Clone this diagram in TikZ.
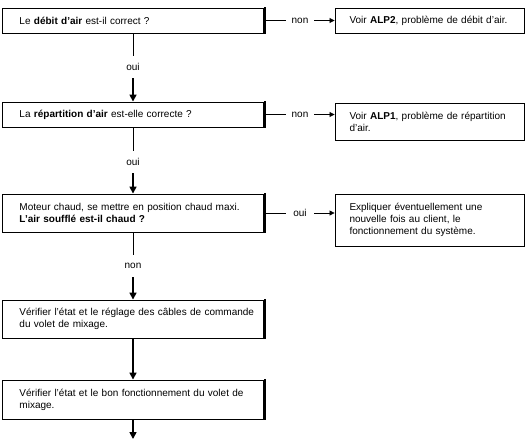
\documentclass[tikz,border=0pt]{standalone}
\usepackage{fontspec}
\setmainfont{Liberation Sans}
\usetikzlibrary{arrows.meta}
\begin{document}
\begin{tikzpicture}[x=1pt,y=-1pt,
  txt/.style={font=\fontsize{10}{12}\selectfont},
  lbox/.style={txt, draw, line width=0.9pt, text width=261pt, minimum width=261pt,
    align=left, inner xsep=0pt, inner ysep=0pt, execute at begin node={\leftskip=17pt\relax}},
  rbox/.style={txt, draw, line width=0.9pt, text width=189pt, minimum width=189pt,
    align=left, inner xsep=0pt, inner ysep=0pt, execute at begin node={\leftskip=14.5pt\relax}},
  vlab/.style={txt, inner sep=0pt, minimum height=22pt},
  hlab/.style={txt, inner sep=0pt, minimum width=28pt},
  thinline/.style={line width=0.8pt},
  varrow/.style={line width=1.6pt, -{Triangle[width=7pt,length=7pt]}},
  harrow/.style={line width=0.8pt, -{Triangle[width=5pt,length=5pt]}},
  edge/.style={line width=2.6pt}
]
\useasboundingbox (0,0) rectangle (529,439);

% left boxes
\node[lbox, minimum height=25pt] (b1) at (133,20.5) {Le \textbf{débit d'air} est-il correct ?};
\node[lbox, minimum height=25pt] (b2) at (133,114.5) {La \textbf{répartition d'air} est-elle correcte ?};
\node[lbox, minimum height=38pt] (b3) at (133,213) {Moteur chaud, se mettre en position chaud maxi.\\\textbf{L'air soufflé est-il chaud ?}};
\node[lbox, minimum height=38pt] (b4) at (133,319) {Vérifier l'état et le réglage des câbles de commande\\du volet de mixage.};
\node[lbox, minimum height=39pt] (b5) at (133,399.5) {Vérifier l'état et le bon fonctionnement du volet de\\mixage.};

\foreach \n in {b1,b2,b3,b4,b5}
  \draw[edge] ([shift={(0.9,-0.45)}]\n.north east) -- ([shift={(0.9,0.45)}]\n.south east);

% right boxes
\node[rbox, minimum height=25pt] (r1) at (429.5,20.5) {Voir \textbf{ALP2}, problème de débit d'air.};
\node[rbox, minimum height=37pt] (r2) at (429.5,121.5) {Voir \textbf{ALP1}, problème de répartition\\d'air.};
\node[rbox, minimum height=52pt] (r3) at (429.5,220) {Expliquer éventuellement une\\nouvelle fois au client, le\\fonctionnement du système.};

% vertical labels
\node[vlab] (v1) at (133,67) {oui};
\node[vlab] (v2) at (133,162) {oui};
\node[vlab] (v3) at (133,266) {non};
\coordinate (end) at (133,439);

% horizontal labels
\node[hlab] (h1) at (300,20.5) {non};
\node[hlab] (h2) at (300,114.5) {non};
\node[hlab] (h3) at (300,213) {oui};

% vertical connectors
\draw[thinline] (b1.south) -- (v1.north);
\draw[varrow] (v1.south) -- (b2.north);
\draw[thinline] (b2.south) -- (v2.north);
\draw[varrow] (v2.south) -- (b3.north);
\draw[thinline] (b3.south) -- (v3.north);
\draw[varrow] (v3.south) -- (b4.north);
\draw[varrow] (b4.south) -- (b5.north);
\draw[varrow] (b5.south) -- (end);

% horizontal connectors
\draw[thinline] ([xshift=2pt]b1.east) -- (h1.west);
\draw[harrow] (h1.east) -- (r1.west);
\draw[thinline] ([xshift=2pt]b2.east) -- (h2.west);
\draw[harrow] (h2.east) -- (h2.east -| r2.west);
\draw[thinline] ([xshift=2pt]b3.east) -- (h3.west);
\draw[harrow] (h3.east) -- (h3.east -| r3.west);
\end{tikzpicture}
\end{document}
